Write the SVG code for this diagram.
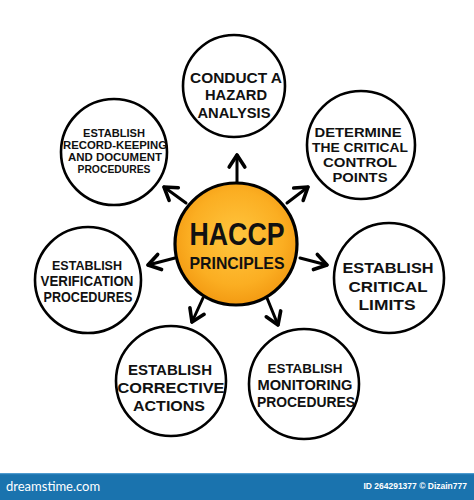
<svg xmlns="http://www.w3.org/2000/svg" width="474" height="500" viewBox="0 0 474 500">
<defs>
<radialGradient id="og" cx="0.5" cy="0.45" r="0.55">
<stop offset="0" stop-color="#FFC63F"/>
<stop offset="0.7" stop-color="#FBAE22"/>
<stop offset="1" stop-color="#F39A12"/>
</radialGradient>
<marker id="ah" markerUnits="userSpaceOnUse" markerWidth="24" markerHeight="24" viewBox="-14 -10 18 20" refX="0" refY="0" orient="auto">
<path d="M-10,-6.5 L0,0 L-10,6.5" fill="none" stroke="#000" stroke-width="3" stroke-linecap="round" stroke-linejoin="round"/>
</marker>
</defs>
<style>
.n{fill:#fff;stroke:#000;stroke-width:2.6}
.t{font-family:"Liberation Sans",Arial,sans-serif;font-weight:bold;fill:#111;text-anchor:middle}
.s{font-size:15px}
.v{font-size:14px}
.m{font-size:13px}
.r{font-size:10.5px}
.c{stroke:#000;stroke-width:3;fill:none;stroke-linecap:round;marker-end:url(#ah)}
</style>
<rect width="474" height="500" fill="#fff"/>
<g id="connectors">
<line class="c" x1="237" y1="182" x2="237" y2="155"/>
<line class="c" x1="186" y1="203" x2="164" y2="187"/>
<line class="c" x1="287" y1="203" x2="308" y2="187"/>
<line class="c" x1="175" y1="258" x2="148" y2="265"/>
<line class="c" x1="300" y1="258" x2="327" y2="265"/>
<line class="c" x1="203" y1="298" x2="192" y2="322"/>
<line class="c" x1="267" y1="298" x2="278" y2="325"/>
</g>
<g id="center">
<circle cx="236" cy="244" r="61" fill="url(#og)" stroke="#000" stroke-width="3.2"/>
<text class="t" x="237" y="245" font-size="32" textLength="95" lengthAdjust="spacingAndGlyphs">HACCP</text>
<text class="t" x="237" y="269" font-size="17" textLength="95" lengthAdjust="spacingAndGlyphs">PRINCIPLES</text>
</g>
<g id="hazard">
<circle class="n" cx="234" cy="86" r="51"/>
<text class="t s" x="236" y="83" textLength="92" lengthAdjust="spacingAndGlyphs">CONDUCT A</text>
<text class="t s" x="236" y="100" textLength="62" lengthAdjust="spacingAndGlyphs">HAZARD</text>
<text class="t s" x="234" y="118" textLength="73" lengthAdjust="spacingAndGlyphs">ANALYSIS</text>
</g>
<g id="ccp">
<circle class="n" cx="361" cy="145" r="54"/>
<text class="t m" x="358" y="137" textLength="87" lengthAdjust="spacingAndGlyphs">DETERMINE</text>
<text class="t m" x="360" y="152" textLength="96" lengthAdjust="spacingAndGlyphs">THE CRITICAL</text>
<text class="t m" x="360" y="167" textLength="74" lengthAdjust="spacingAndGlyphs">CONTROL</text>
<text class="t m" x="360" y="182" textLength="55" lengthAdjust="spacingAndGlyphs">POINTS</text>
</g>
<g id="limits">
<circle class="n" cx="389" cy="278" r="55"/>
<text class="t s" x="388" y="273" textLength="91" lengthAdjust="spacingAndGlyphs">ESTABLISH</text>
<text class="t s" x="388" y="292" textLength="79" lengthAdjust="spacingAndGlyphs">CRITICAL</text>
<text class="t s" x="387" y="310" textLength="57" lengthAdjust="spacingAndGlyphs">LIMITS</text>
</g>
<g id="monitoring">
<circle class="n" cx="304" cy="384" r="55"/>
<text class="t m" x="305" y="373" textLength="75" lengthAdjust="spacingAndGlyphs">ESTABLISH</text>
<text class="t v" x="305" y="390" textLength="95" lengthAdjust="spacingAndGlyphs">MONITORING</text>
<text class="t v" x="306" y="406.5" textLength="98" lengthAdjust="spacingAndGlyphs">PROCEDURES</text>
</g>
<g id="corrective">
<circle class="n" cx="171" cy="381" r="55"/>
<text class="t s" x="170" y="375" textLength="84" lengthAdjust="spacingAndGlyphs">ESTABLISH</text>
<text class="t s" x="171" y="393" textLength="107" lengthAdjust="spacingAndGlyphs">CORRECTIVE</text>
<text class="t s" x="169" y="411" textLength="72" lengthAdjust="spacingAndGlyphs">ACTIONS</text>
</g>
<g id="verification">
<circle class="n" cx="88" cy="280" r="53"/>
<text class="t m" x="87" y="270" textLength="70" lengthAdjust="spacingAndGlyphs">ESTABLISH</text>
<text class="t v" x="87" y="286" textLength="93" lengthAdjust="spacingAndGlyphs">VERIFICATION</text>
<text class="t v" x="88" y="302" textLength="89" lengthAdjust="spacingAndGlyphs">PROCEDURES</text>
</g>
<g id="records">
<circle class="n" cx="114" cy="152" r="53"/>
<text class="t r" x="114" y="137" textLength="62" lengthAdjust="spacingAndGlyphs">ESTABLISH</text>
<text class="t r" x="115" y="149" textLength="104" lengthAdjust="spacingAndGlyphs">RECORD-KEEPING</text>
<text class="t r" x="115" y="161" textLength="94" lengthAdjust="spacingAndGlyphs">AND DOCUMENT</text>
<text class="t r" x="114" y="173" textLength="73" lengthAdjust="spacingAndGlyphs">PROCEDURES</text>
</g>
<g id="footer">
<rect x="0" y="473" width="474" height="27" fill="#1A73AE"/>
<rect x="0" y="473" width="474" height="1.2" fill="#4F9BCF"/>
<text x="6" y="491" font-family="Lato,'Liberation Sans',sans-serif" font-size="13" fill="#fff">dreamstime.com</text>
<text x="467" y="489" font-family="'Liberation Sans',Arial,sans-serif" font-size="8.5" font-weight="bold" fill="#fff" text-anchor="end">ID 264291377 © Dizain777</text>
</g>
</svg>
